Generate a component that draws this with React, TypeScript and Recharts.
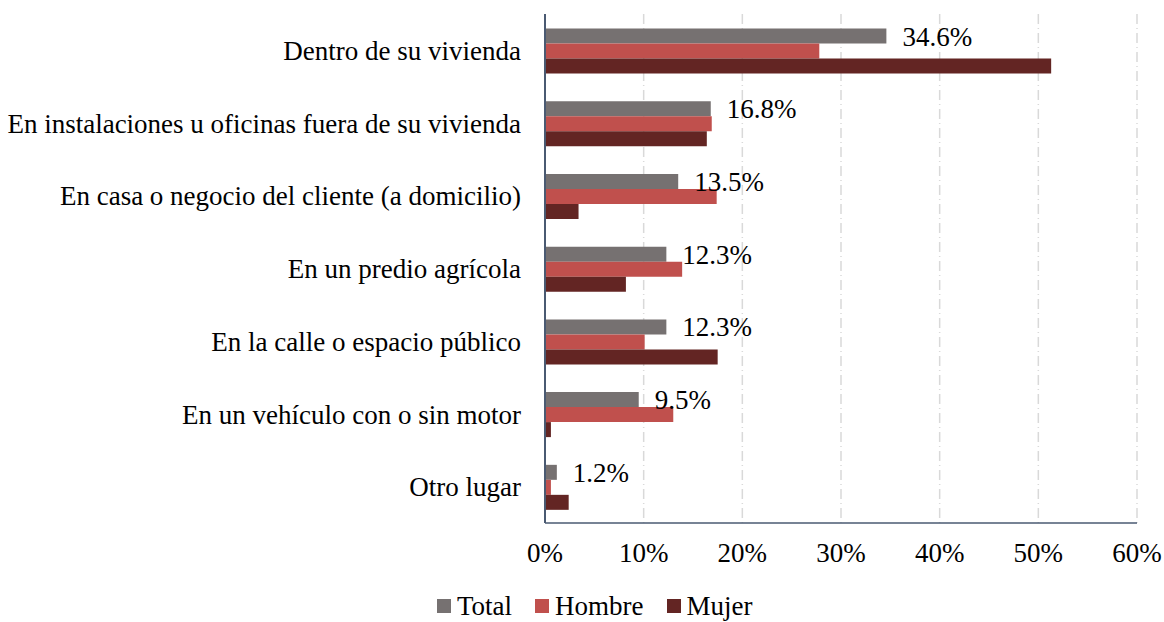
import React from 'react';
import { BarChart, Bar, XAxis, YAxis, CartesianGrid, Legend, LabelList } from 'recharts';

const categories = [
  'Dentro de su vivienda',
  'En instalaciones u oficinas fuera de su vivienda',
  'En casa o negocio del cliente (a domicilio)',
  'En un predio agrícola',
  'En la calle o espacio público',
  'En un vehículo con o sin motor',
  'Otro lugar',
];
const totalValues = [34.6, 16.8, 13.5, 12.3, 12.3, 9.5, 1.2];
const hombreValues = [27.8, 16.9, 17.4, 13.9, 10.1, 13.0, 0.6];
const mujerValues = [51.3, 16.4, 3.4, 8.2, 17.5, 0.6, 2.4];
const xTicks = [0, 10, 20, 30, 40, 50, 60];
const seriesNames = ['Total', 'Hombre', 'Mujer'];
const seriesColors = ['#767171', '#C0504D', '#632523'];

const data = categories.map((c, i) => ({
  name: c,
  Total: totalValues[i],
  Hombre: hombreValues[i],
  Mujer: mujerValues[i],
}));

const FONT = "'Liberation Serif', 'Times New Roman', serif";
const FS = 27;

const LegendContent = () => (
  <div
    style={{
      display: 'flex',
      justifyContent: 'flex-start',
      alignItems: 'center',
      fontFamily: FONT,
      fontSize: FS,
      color: '#000',
      lineHeight: '30px',
      height: 30,
      paddingLeft: 437,
      boxSizing: 'border-box',
    }}
  >
    {seriesNames.map((n, i) => (
      <div key={n} style={{ display: 'flex', alignItems: 'center', marginRight: i < 2 ? 23 : 0 }}>
        <span style={{ display: 'inline-block', width: 14, height: 14, background: seriesColors[i], marginRight: 6 }} />
        <span>{n}</span>
      </div>
    ))}
  </div>
);

export default function App() {
  return (
    <div
      style={{
        position: 'absolute',
        top: 0,
        left: 0,
        width: 1164,
        height: 622,
        background: '#fff',
        overflow: 'hidden',
      }}
    >
      <BarChart
        width={1164}
        height={622}
        data={data}
        layout="vertical"
        margin={{ top: 14, right: 27, left: 0, bottom: 0 }}
        barCategoryGap="20%"
        barGap={0}
      >
        <CartesianGrid
          horizontal={false}
          vertical={true}
          stroke="#d9d9d9"
          strokeWidth={1.5}
          strokeDasharray="10 4 1 4"
        />
        <XAxis
          type="number"
          domain={[0, 60]}
          ticks={xTicks}
          tickFormatter={(v: number) => `${v}%`}
          axisLine={{ stroke: '#4a5a72', strokeWidth: 1.5 }}
          tickLine={false}
          tickSize={0}
          tickMargin={20}
          height={69}
          tick={{ fill: '#000', fontSize: FS, fontFamily: FONT }}
        />
        <YAxis
          type="category"
          dataKey="name"
          width={545}
          axisLine={{ stroke: '#4a5a72', strokeWidth: 2 }}
          tickLine={false}
          tickSize={0}
          tickMargin={24}
          interval={0}
          tick={{ fill: '#000', fontSize: FS, fontFamily: FONT }}
        />
        <Legend
          verticalAlign="bottom"
          align="left"
          height={30}
          wrapperStyle={{ left: 0, width: 1164, bottom: 1 }}
          content={<LegendContent />}
        />
        {seriesNames.map((n, i) => (
          <Bar key={n} dataKey={n} fill={seriesColors[i]} isAnimationActive={false}>
            {i === 0 ? (
              <LabelList
                dataKey={n}
                position="right"
                offset={16}
                formatter={(v: number) => `${v.toFixed(1)}%`}
                style={{ fill: '#000', fontSize: FS, fontFamily: FONT }}
              />
            ) : null}
          </Bar>
        ))}
      </BarChart>
    </div>
  );
}
